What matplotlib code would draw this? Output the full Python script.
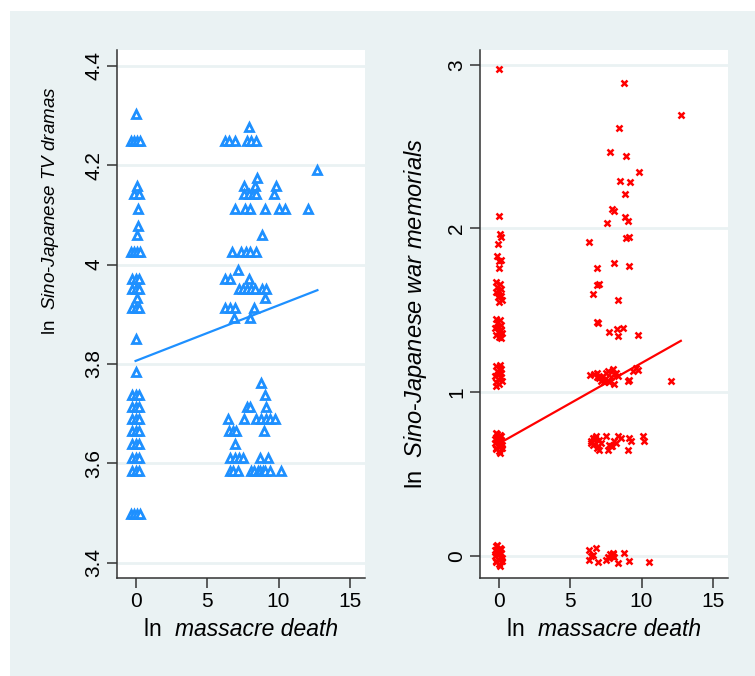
import matplotlib
matplotlib.use("Agg")
import matplotlib.pyplot as plt
from matplotlib.patches import Rectangle
from matplotlib.offsetbox import TextArea, HPacker, AnchoredOffsetbox

# ---- data ----
# left panel: ln massacre death vs ln Sino-Japanese TV dramas
tv_x = [0.0, -0.3, -0.1, 0.1, 0.3, 0.1, -0.1, 0.25, 0.2, 0.15, 0.1,
        -0.3, -0.1, 0.1, 0.3, -0.25, 0.0, 0.25, -0.25, 0.0, 0.25, 0.1,
        -0.25, 0.0, 0.25, 0.0, 0.0,
        -0.25, 0.0, 0.25, -0.25, 0.0, 0.25, -0.25, 0.0, 0.25, -0.25, 0.0, 0.25,
        -0.25, 0.0, 0.25, -0.25, 0.0, 0.25, -0.25, 0.0, 0.25,
        -0.3, -0.1, 0.1, 0.3,
        7.91, 6.23, 6.56, 6.93, 7.79, 8.09, 8.42, 12.72, 8.49,
        7.56, 8.37, 9.84, 7.56, 7.91, 8.19, 8.42, 9.65,
        6.93, 7.68, 8.02, 9.02, 10.0, 10.47, 12.05, 8.84,
        6.75, 7.40, 7.73, 8.02, 8.42, 7.16, 6.23, 6.63, 7.91,
        7.21, 7.49, 7.79, 8.09, 8.37, 8.84, 9.12, 9.02,
        6.28, 6.63, 6.98, 8.26, 6.86, 7.98,
        8.77, 9.07, 7.82, 8.0, 9.14,
        6.47, 7.56, 8.42, 8.77, 9.12, 9.42, 9.77,
        6.51, 6.79, 7.03, 8.95, 6.98,
        6.63, 6.93, 7.21, 7.49, 8.72, 9.26,
        6.63, 6.85, 7.16, 8.09, 8.3, 8.55, 8.72, 8.9, 9.07, 9.37, 10.17]
tv_y = [4.304, 4.248, 4.248, 4.248, 4.248, 4.159, 4.143, 4.143, 4.111, 4.078, 4.060,
        4.025, 4.025, 4.025, 4.025, 3.970, 3.970, 3.970, 3.951, 3.951, 3.951, 3.932,
        3.912, 3.912, 3.912, 3.850, 3.784,
        3.738, 3.738, 3.738, 3.714, 3.714, 3.714, 3.689, 3.689, 3.689, 3.664, 3.664, 3.664,
        3.638, 3.638, 3.638, 3.611, 3.611, 3.611, 3.584, 3.584, 3.584,
        3.497, 3.497, 3.497, 3.497,
        4.277, 4.248, 4.248, 4.248, 4.248, 4.248, 4.248, 4.190, 4.174,
        4.159, 4.159, 4.159, 4.143, 4.143, 4.143, 4.143, 4.143,
        4.111, 4.111, 4.111, 4.111, 4.111, 4.111, 4.111, 4.060,
        4.025, 4.025, 4.025, 4.025, 4.025, 3.989, 3.970, 3.970, 3.970,
        3.951, 3.951, 3.951, 3.951, 3.951, 3.951, 3.951, 3.932,
        3.912, 3.912, 3.912, 3.912, 3.892, 3.892,
        3.761, 3.738, 3.714, 3.714, 3.714,
        3.689, 3.689, 3.689, 3.689, 3.689, 3.689, 3.689,
        3.664, 3.664, 3.664, 3.664, 3.638,
        3.611, 3.611, 3.611, 3.611, 3.611, 3.611,
        3.584, 3.584, 3.584, 3.584, 3.584, 3.584, 3.584, 3.584, 3.584, 3.584, 3.584]
tv_fit = (3.806, 0.0112)  # intercept, slope of the fitted line

# right panel: ln massacre death vs ln Sino-Japanese war memorials
mem_x = [-0.2, 0.1, -0.1, 0.2, 0.0, -0.25, 0.15, -0.05, 0.25, -0.15, 0.05, 0.2, -0.2, 0.1, -0.1, 0.0, 0.22, -0.22,
         -0.2, 0.1, -0.1, 0.2, 0.0, -0.25, 0.15, -0.05, 0.25, -0.15, 0.05, 0.2, -0.2, 0.1, -0.1, 0.0, 0.22, -0.22,
         -0.2, 0.1, -0.1, 0.2, 0.0, -0.25, 0.15, -0.05, 0.25, -0.15, 0.05, 0.2, -0.2, 0.1,
         -0.2, 0.1, -0.1, 0.2, 0.0, -0.25, 0.15, -0.05, 0.25, -0.15, 0.05, 0.2,
         -0.15, 0.1, -0.1, 0.2, 0.0, -0.2, 0.15, -0.05, 0.25, 0.05,
         -0.1, 0.15, 0.05, 0.0, 0.1, 0.2, -0.05, 0.05, 0.0,
         8.79, 12.75, 8.44, 7.82, 8.91, 9.84, 8.51, 9.21, 8.84, 7.93, 8.09, 7.56, 8.84, 9.02,
         6.35, 8.91, 9.09, 8.05, 6.86, 9.14, 6.86, 7.05, 6.63, 8.37,
         6.89, 6.98, 7.70, 8.28, 8.33, 8.67, 9.77,
         6.42, 6.65, 6.86, 7.05, 7.28, 7.45, 7.52, 7.63, 7.75, 7.86, 7.98, 8.05, 8.1, 8.2, 8.33,
         7.2, 7.4, 6.9, 9.02, 9.14, 9.37, 9.61, 9.72, 12.05,
         6.47, 6.70, 6.82, 6.93, 7.05, 6.58, 7.52, 7.63, 7.86, 8.09, 8.21, 8.33, 8.56, 9.14,
         9.26, 9.02, 10.07, 10.14, 6.5, 6.6, 6.75, 6.9, 7.0, 7.2, 7.75, 7.95,
         6.35, 6.82, 6.35, 6.58, 6.93, 7.52, 7.63, 7.82, 7.98, 8.09, 8.33, 8.79, 9.14, 10.54,
         7.7, 7.9, 8.0, 6.5]
mem_y = [0.06, 0.05, 0.03, 0.02, 0.01, 0.0, -0.01, -0.02, -0.03, -0.04, -0.05, 0.04, -0.03, -0.06, 0.065, 0.015, -0.015, 0.035,
         0.75, 0.74, 0.72, 0.71, 0.70, 0.69, 0.68, 0.67, 0.66, 0.65, 0.64, 0.73, 0.66, 0.63, 0.745, 0.695, 0.675, 0.715,
         1.16, 1.15, 1.13, 1.12, 1.11, 1.10, 1.09, 1.08, 1.07, 1.06, 1.05, 1.14, 1.04, 1.165,
         1.45, 1.44, 1.42, 1.41, 1.40, 1.39, 1.38, 1.37, 1.36, 1.35, 1.34, 1.33,
         1.67, 1.66, 1.64, 1.63, 1.62, 1.61, 1.59, 1.58, 1.56, 1.55,
         1.83, 1.81, 1.80, 1.756, 1.965, 1.95, 1.903, 2.077, 2.974,
         2.887, 2.693, 2.611, 2.464, 2.444, 2.346, 2.291, 2.285, 2.209, 2.118, 2.104, 2.036, 2.071, 2.046,
         1.918, 1.944, 1.950, 1.791, 1.756, 1.771, 1.654, 1.658, 1.597, 1.562,
         1.428, 1.424, 1.369, 1.383, 1.346, 1.394, 1.348,
         1.102, 1.11, 1.095, 1.085, 1.10, 1.08, 1.115, 1.13, 1.06, 1.09, 1.14, 1.047, 1.11, 1.12, 1.10,
         1.07, 1.06, 1.12, 1.067, 1.077, 1.128, 1.149, 1.134, 1.067,
         0.690, 0.710, 0.730, 0.669, 0.649, 0.720, 0.734, 0.649, 0.669, 0.700, 0.690, 0.734, 0.720, 0.720,
         0.700, 0.649, 0.734, 0.700, 0.70, 0.68, 0.72, 0.66, 0.71, 0.69, 0.68, 0.67,
         0.033, 0.047, -0.024, 0.006, -0.035, -0.024, -0.004, 0.012, 0.020, -0.004, -0.045, 0.016, -0.031, -0.039,
         -0.01, 0.0, 0.01, 0.0]
mem_fit = (0.685, 0.0493)

xticks = [0, 5, 10, 15]
tv_yticks = [3.4, 3.6, 3.8, 4.0, 4.2, 4.4]
tv_yticklabels = ["3.4", "3.6", "3.8", "4", "4.2", "4.4"]
mem_yticks = [0, 1, 2, 3]

bg = "#EAF2F3"
blue = "#1E90FF"
red = "#FF0000"
axcol = "#333333"

plt.rcParams["font.family"] = ["Liberation Sans", "DejaVu Sans"]
plt.rcParams["mathtext.fontset"] = "custom"
plt.rcParams["mathtext.rm"] = "Liberation Sans"
plt.rcParams["mathtext.it"] = "Liberation Sans:italic"

fig = plt.figure(figsize=(7.55, 6.76), dpi=100, facecolor="white")
fig.add_artist(Rectangle((10 / 755, 0), 1, 1 - 11 / 676, transform=fig.transFigure,
                         facecolor=bg, edgecolor="none", zorder=-10))

ax1 = fig.add_axes([117 / 755, 98 / 676, 248 / 755, 528 / 676])
ax2 = fig.add_axes([480 / 755, 98 / 676, 248 / 755, 528 / 676])


def style(ax, yticks, ylabels, ylim, ytitle, tsize, tpos):
    ax.set_facecolor("white")
    for s in ["top", "right"]:
        ax.spines[s].set_visible(False)
    for s in ["left", "bottom"]:
        ax.spines[s].set_color(axcol)
        ax.spines[s].set_linewidth(1.1)
    ax.set_xlim(-1.3, 16.05)
    ax.set_ylim(*ylim)
    ax.set_xticks(xticks)
    ax.set_yticks(yticks)
    ax.set_yticklabels(ylabels, rotation=90, va="center")
    ax.tick_params(direction="out", length=7, width=1.1, color=axcol, labelsize=15, pad=3)
    ax.grid(axis="y", color=bg, linewidth=2)
    ax.set_axisbelow(True)
    ax.set_ylabel(ytitle, fontsize=tsize)
    ax.yaxis.set_label_coords(*tpos)
    # x title: upright "ln", italic variable name
    box = HPacker(children=[TextArea("ln  ", textprops=dict(size=16.5)),
                            TextArea("massacre death", textprops=dict(size=16.5, style="italic"))],
                  align="baseline", pad=0, sep=0)
    ab = AnchoredOffsetbox(loc="upper center", child=box, pad=0, borderpad=0, frameon=False,
                           bbox_to_anchor=(0.5, -0.075), bbox_transform=ax.transAxes)
    ax.add_artist(ab)


style(ax1, tv_yticks, tv_yticklabels, (3.369, 4.432),
      r"ln  $\mathit{Sino}$-$\mathit{Japanese\ TV\ dramas}$", 13.5, (-0.226, 0.695))
style(ax2, mem_yticks, [str(t) for t in mem_yticks], (-0.135, 3.09),
      r"ln  $\mathit{Sino}$-$\mathit{Japanese\ war\ memorials}$", 17, (-0.206, 0.5))

ax1.plot(tv_x, tv_y, linestyle="none", marker="^", markersize=5.5, markerfacecolor="white",
         markeredgecolor=blue, markeredgewidth=2, zorder=3)
fx = [0, max(tv_x)]
ax1.plot(fx, [tv_fit[0] + tv_fit[1] * v for v in fx], color=blue, linewidth=1.6, zorder=4)

ax2.plot(mem_x, mem_y, linestyle="none", marker="x", markersize=5, color=red,
         markeredgewidth=1.8, zorder=3)
fx = [0, max(mem_x)]
ax2.plot(fx, [mem_fit[0] + mem_fit[1] * v for v in fx], color=red, linewidth=1.6, zorder=4)

fig.savefig("out.png", dpi=100, facecolor=fig.get_facecolor())
